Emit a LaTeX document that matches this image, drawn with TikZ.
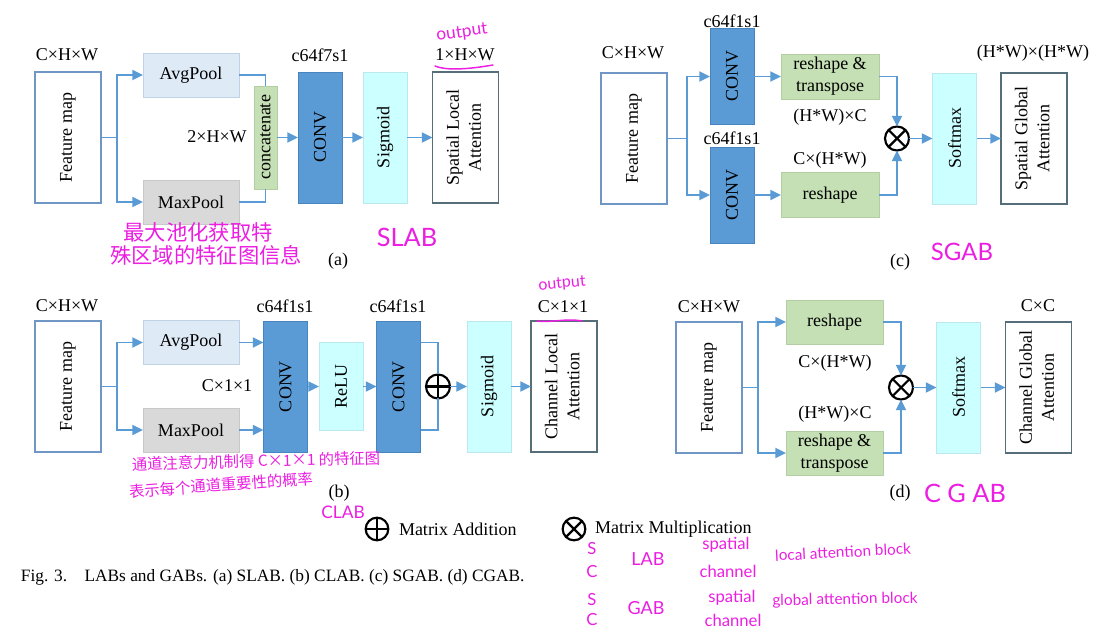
\documentclass[tikz,border=0pt]{standalone}
\usepackage{fontspec}
\usepackage{graphicx}
\setmainfont{Liberation Serif}
\newfontfamily\cjk{Noto Sans CJK SC}
\newfontfamily\hand{Lato}
\usetikzlibrary{arrows.meta}
\definecolor{arrblue}{RGB}{91,155,213}
\definecolor{convfill}{RGB}{91,155,213}
\definecolor{convdraw}{RGB}{72,132,192}
\definecolor{avgfill}{RGB}{222,235,247}
\definecolor{avgdraw}{RGB}{192,210,230}
\definecolor{maxfill}{RGB}{217,217,217}
\definecolor{maxdraw}{RGB}{200,200,200}
\definecolor{grnfill}{RGB}{197,224,180}
\definecolor{grndraw}{RGB}{178,206,162}
\definecolor{cyfill}{RGB}{204,255,255}
\definecolor{cydraw}{RGB}{186,232,236}
\definecolor{fmdraw}{RGB}{112,150,198}
\definecolor{attdraw}{RGB}{86,110,122}
\definecolor{mag}{RGB}{235,30,225}
\newcommand{\rtext}[1]{\rotatebox{90}{#1}}
\newcommand{\rtwo}[2]{\rotatebox{90}{\begin{tabular}{@{}c@{}}#1\\#2\end{tabular}}}
\begin{document}
\begin{tikzpicture}[x=0.75pt,y=-0.75pt,
  every node/.style={font=\fontsize{13.5}{16.5}\selectfont, inner sep=0pt, outer sep=0pt},
  sz/.style 2 args={minimum width=#1*0.75pt, minimum height=#2*0.75pt},
  fmbox/.style={draw=fmdraw, line width=0.9pt, fill=white, sz={66}{131}},
  attbox/.style={draw=attdraw, line width=0.9pt, fill=white, sz={66}{131}},
  convbox/.style={draw=convdraw, line width=0.6pt, fill=convfill},
  cybox/.style={draw=cydraw, line width=0.6pt, fill=cyfill},
  avgbox/.style={draw=avgdraw, line width=0.6pt, fill=avgfill, sz={96}{44}},
  maxbox/.style={draw=maxdraw, line width=0.6pt, fill=maxfill, sz={96}{44}},
  grnbox/.style={draw=grndraw, line width=0.6pt, fill=grnfill},
  ln/.style={draw=arrblue, line width=1.4pt},
  arr/.style={draw=arrblue, line width=1.4pt, -{Triangle[length=8pt,width=7.5pt]}},
  opnode/.style={circle, draw=black, line width=1.6pt, minimum size=18pt, fill=white},
  opline/.style={draw=black, line width=1.6pt},
  hw/.style={text=mag, font=\hand\fontsize{#1}{#1}\selectfont},
  hwcjk/.style={text=mag, font=\cjk\fontsize{#1}{#1}\selectfont},
  mline/.style={draw=mag, line width=1.1pt, line cap=round}
]
\useasboundingbox (0,0) rectangle (1114,634);

% ================= (a) SLAB =================
\node[fmbox] (a-fm) at (68,137.5) {\rtext{Feature map}};
\node[avgbox] (a-avg) at (191,75) {AvgPool};
\node[maxbox] (a-max) at (191,202) {MaxPool};
\node[grnbox, sz={23}{103}] (a-cat) at (265.5,137.5) {\rtext{concatenate}};
\node[convbox, sz={44}{131}] (a-conv) at (320,137.5) {\rtext{CONV}};
\node[cybox, sz={44}{131}] (a-sig) at (385,137.5) {\rtext{Sigmoid}};
\node[attbox] (a-out) at (465.5,137.5) {\rtwo{Spatial Local}{Attention}};
\node (a-in) at (67,55) {C×H×W};
\node (a-k) at (320,55) {c64f7s1};
\node (a-dim) at (465,55) {1×H×W};
\node (a-mid) at (217,137) {2×H×W};
\node (a-lab) at (338,261) {(a)};

\draw[ln] (a-fm.east) -- ++(16,0) coordinate (a-sp);
\draw[arr] (a-sp) |- (a-avg.west);
\draw[arr] (a-sp) |- (a-max.west);
\draw[ln] (a-avg.east) -| (a-cat.north);
\draw[ln] (a-max.east) -| (a-cat.south);
\draw[arr] (a-cat.east) -- (a-conv.west);
\draw[arr] (a-conv.east) -- (a-sig.west);
\draw[arr] (a-sig.east) -- (a-out.west);

% ================= (b) CLAB =================
\node[fmbox] (b-fm) at (68,386.5) {\rtext{Feature map}};
\node[avgbox] (b-avg) at (191,342.5) {AvgPool};
\node[maxbox] (b-max) at (191,430) {MaxPool};
\node[convbox, sz={44}{131}] (b-conv1) at (285.5,386.5) {\rtext{CONV}};
\node[cybox, sz={44}{88}] (b-relu) at (341,386.5) {\rtext{ReLU}};
\node[convbox, sz={44}{131}] (b-conv2) at (398.5,386.5) {\rtext{CONV}};
\node[opnode] (b-add) at (438,386.5) {};
\draw[opline] (b-add.north) -- (b-add.south);
\draw[opline] (b-add.west) -- (b-add.east);
\node[cybox, sz={44}{131}] (b-sig) at (489,386.5) {\rtext{Sigmoid}};
\node[attbox] (b-out) at (564,386.5) {\rtwo{Channel Local}{Attention}};
\node (b-in) at (67,306) {C×H×W};
\node (b-k1) at (285,306) {c64f1s1};
\node (b-k2) at (398,306) {c64f1s1};
\node (b-dim) at (563,307) {C×1×1};
\node (b-mid) at (227,386) {C×1×1};
\node (b-lab) at (339,493) {(b)};

\draw[ln] (b-fm.east) -- ++(16,0) coordinate (b-sp);
\draw[arr] (b-sp) |- (b-avg.west);
\draw[arr] (b-sp) |- (b-max.west);
\draw[arr] (b-avg.east) -- (b-avg.east -| b-conv1.west);
\draw[arr] (b-max.east) -- (b-max.east -| b-conv1.west);
\draw[arr] (b-conv1.east) -- (b-relu.west);
\draw[arr] (b-relu.east) -- (b-conv2.west);
\draw[ln] (b-avg.east -| b-conv2.east) -| (b-add.north);
\draw[ln] (b-max.east -| b-conv2.east) -| (b-add.south);
\draw[arr] (b-add.east) -- (b-sig.west);
\draw[arr] (b-sig.east) -- (b-out.west);

% ================= (c) SGAB =================
\node[fmbox] (c-fm) at (634,138.5) {\rtext{Feature map}};
\node[convbox, sz={44}{96}] (c-conv1) at (732,76.5) {\rtext{CONV}};
\node[convbox, sz={44}{96}] (c-conv2) at (732,195) {\rtext{CONV}};
\node[grnbox, sz={98}{45}, align=center] (c-rt) at (830,76.5) {reshape \&\\transpose};
\node[grnbox, sz={98}{45}] (c-rs) at (830,195) {reshape};
\node[opnode] (c-mul) at (897,138.5) {};
\draw[opline] (c-mul.north east) -- (c-mul.south west);
\draw[opline] (c-mul.north west) -- (c-mul.south east);
\node[cybox, sz={44}{131}] (c-soft) at (954.5,138.5) {\rtext{Softmax}};
\node[attbox] (c-out) at (1034,138.5) {\rtwo{Spatial Global}{Attention}};
\node (c-in) at (633,53) {C×H×W};
\node (c-k1) at (732,21) {c64f1s1};
\node (c-k2) at (732,138) {c64f1s1};
\node (c-d1) at (830,117) {(H*W)×C};
\node (c-d2) at (830,160) {C×(H*W)};
\node (c-dim) at (1033,53) {(H*W)×(H*W)};
\node (c-lab) at (900,262) {(c)};

\draw[ln] (c-fm.east) -- ++(20,0) coordinate (c-sp);
\draw[arr] (c-sp) |- (c-conv1.west);
\draw[arr] (c-sp) |- (c-conv2.west);
\draw[arr] (c-conv1.east) -- (c-rt.west);
\draw[arr] (c-conv2.east) -- (c-rs.west);
\draw[arr] (c-rt.east) -| (c-mul.north);
\draw[arr] (c-rs.east) -| (c-mul.south);
\draw[arr] (c-mul.east) -- (c-soft.west);
\draw[arr] (c-soft.east) -- (c-out.west);

% ================= (d) CGAB =================
\node[fmbox] (d-fm) at (709,387.5) {\rtext{Feature map}};
\node[grnbox, sz={97}{44}] (d-rs) at (834.5,322) {reshape};
\node[grnbox, sz={97}{44}, align=center] (d-rt) at (834.5,453) {reshape \&\\transpose};
\node[opnode] (d-mul) at (901,387.5) {};
\draw[opline] (d-mul.north east) -- (d-mul.south west);
\draw[opline] (d-mul.north west) -- (d-mul.south east);
\node[cybox, sz={44}{131}] (d-soft) at (958.5,387.5) {\rtext{Softmax}};
\node[attbox] (d-out) at (1038.5,387.5) {\rtwo{Channel Global}{Attention}};
\node (d-in) at (709,307) {C×H×W};
\node (d-d1) at (835,363) {C×(H*W)};
\node (d-d2) at (835,414) {(H*W)×C};
\node (d-dim) at (1038,306) {C×C};
\node (d-lab) at (900,493) {(d)};

\draw[ln] (d-fm.east) -- ++(16,0) coordinate (d-sp);
\draw[arr] (d-sp) |- (d-rs.west);
\draw[arr] (d-sp) |- (d-rt.west);
\draw[arr] (d-rs.east) -| (d-mul.north);
\draw[arr] (d-rt.east) -| (d-mul.south);
\draw[arr] (d-mul.east) -- (d-soft.west);
\draw[arr] (d-soft.east) -- (d-out.west);

% ================= legend & caption =================
\node[opnode, minimum size=17pt] (l-add) at (377,529) {};
\draw[opline] (l-add.north) -- (l-add.south);
\draw[opline] (l-add.west) -- (l-add.east);
\node[anchor=west] (l-addt) at (399,529) {Matrix Addition};
\node[opnode, minimum size=17pt] (l-mul) at (574,529) {};
\draw[opline] (l-mul.north east) -- (l-mul.south west);
\draw[opline] (l-mul.north west) -- (l-mul.south east);
\node[anchor=west] (l-mult) at (595,529) {Matrix Multiplication};
\node[anchor=west, font=\fontsize{13}{15}\selectfont] (cap) at (21,577)
  {Fig. 3.\hspace{1em}LABs and GABs. (a) SLAB. (b) CLAB. (c) SGAB. (d) CGAB.};

% ================= handwritten notes =================
\node[hw=13, rotate=8] (n-out1) at (462,33) {output};
\draw[mline] (435,66) .. controls (447,71) and (470,69) .. (493,65);
\node[hw=12, rotate=5] (n-out2) at (562,284) {output};
\draw[mline] (537,321) .. controls (550,323) and (566,318) .. (582,321);
\node[hwcjk=16] (n-a1) at (198,232) {最大池化获取特};
\node[hwcjk=16] (n-a2) at (206,255) {殊区域的特征图信息};
\node[hwcjk=11.5, rotate=1.5] (n-b1) at (256,461) {通道注意力机制得 C×1×1 的特征图};
\node[hwcjk=11.5, rotate=4] (n-b2) at (221,485) {表示每个通道重要性的概率};
\node[hw=19] (n-slab) at (407,237) {SLAB};
\node[hw=13] (n-clab) at (343,512) {CLAB};
\node[hw=18] (n-sgab) at (962,252) {SGAB};
\node[hw=19] (n-cgab) at (965,493) {C G AB};
\node[hw=12.5] (n-s1) at (592,549) {S};
\node[hw=12.5] (n-c1) at (592,572) {C};
\node[hw=13.5] (n-lab) at (648,559) {LAB};
\node[hw=12.5] (n-sp1) at (726,545) {spatial};
\node[hw=12.5] (n-ch1) at (728,571) {channel};
\node[hw=11.5, rotate=3] (n-lab2) at (843,552) {local attention block};
\node[hw=12.5] (n-s2) at (592,600) {S};
\node[hw=12.5] (n-c2) at (592,620) {C};
\node[hw=13.5] (n-gab) at (646,608) {GAB};
\node[hw=12.5] (n-sp2) at (732,598) {spatial};
\node[hw=12.5] (n-ch2) at (733,620) {channel};
\node[hw=11.5, rotate=1] (n-gab2) at (845,600) {global attention block};
\end{tikzpicture}
\end{document}
